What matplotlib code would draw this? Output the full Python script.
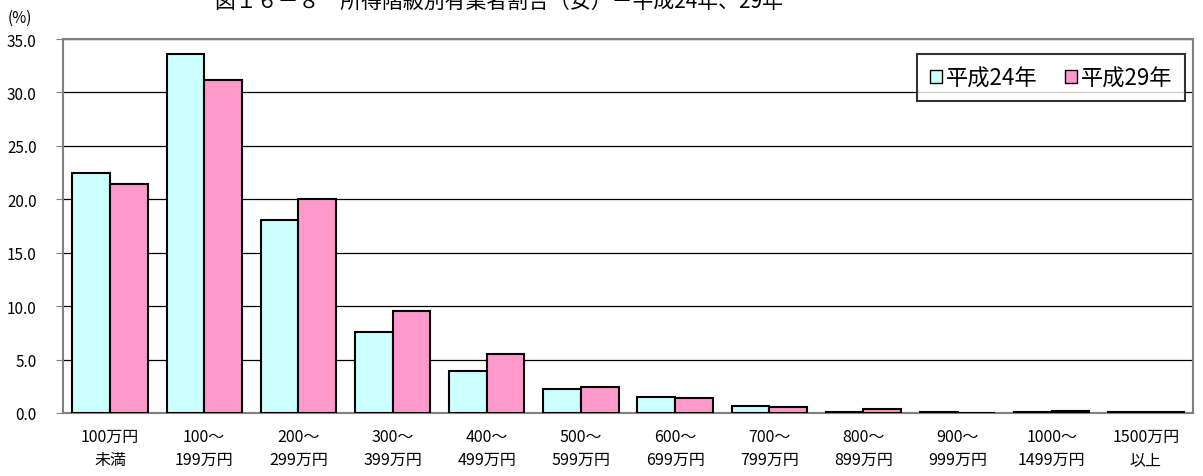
import numpy as np
import matplotlib
matplotlib.use('Agg')
import matplotlib.pyplot as plt
from matplotlib.patches import Patch

plt.rcParams['font.family'] = ['Noto Sans CJK JP', 'DejaVu Sans']

# data
categories = ['100万円\n未満', '100～\n199万円', '200～\n299万円', '300～\n399万円',
              '400～\n499万円', '500～\n599万円', '600～\n699万円', '700～\n799万円',
              '800～\n899万円', '900～\n999万円', '1000～\n1499万円', '1500万円\n以上']
h24 = [22.5, 33.6, 18.1, 7.6, 3.9, 2.2, 1.5, 0.7, 0.1, 0.1, 0.1, 0.1]
h29 = [21.4, 31.2, 20.0, 9.5, 5.5, 2.4, 1.4, 0.6, 0.4, 0.0, 0.2, 0.1]
yticks = [0, 5, 10, 15, 20, 25, 30, 35]

fig = plt.figure(figsize=(12.03, 4.77), dpi=100)
ax = fig.add_axes([63 / 1203, 1 - 414 / 477, 1130 / 1203, 374 / 477])

x = np.arange(len(categories))
w = 0.4
ax.bar(x - w / 2, h24, w, color='#CCFFFF', edgecolor='black', linewidth=1.5, zorder=3)
ax.bar(x + w / 2, h29, w, color='#FF99CC', edgecolor='black', linewidth=1.5, zorder=3)

ax.set_xlim(-0.5, len(categories) - 0.5)
ax.set_ylim(0, 35)
ax.set_yticks(yticks)
ax.set_yticklabels([f'{v:.1f}' for v in yticks], fontsize=11)
ax.yaxis.grid(True, color='black', linewidth=0.9, zorder=0)
ax.set_xticks(x)
ax.set_xticklabels(categories, fontsize=11.5, linespacing=1.45)
ax.tick_params(axis='x', length=0, pad=11)
ax.tick_params(axis='y', length=5, color='#808080', pad=14)
for s in ax.spines.values():
    s.set_color('#808080')
    s.set_linewidth(1.5)

leg = ax.legend(handles=[Patch(facecolor='#CCFFFF', edgecolor='black', label='平成24年'),
                         Patch(facecolor='#FF99CC', edgecolor='black', label='平成29年')],
                loc='upper right', bbox_to_anchor=(1122 / 1130, 1 - 15 / 374),
                ncol=2, fontsize=16, frameon=True, fancybox=False,
                handlelength=0.55, handleheight=0.55, handletextpad=0.2,
                columnspacing=1.2, borderpad=0.55, borderaxespad=0)
leg.get_frame().set_edgecolor('black')
leg.get_frame().set_linewidth(1.5)

fig.text(8 / 1203, 1 - 18 / 477, '(%)', fontsize=11, va='center')
fig.text(215 / 1203, 1 - 8 / 477, '図１６－８　所得階級別有業者割合（女）－平成24年、29年',
         fontsize=15, va='baseline')

fig.savefig('out.png', dpi=100)
